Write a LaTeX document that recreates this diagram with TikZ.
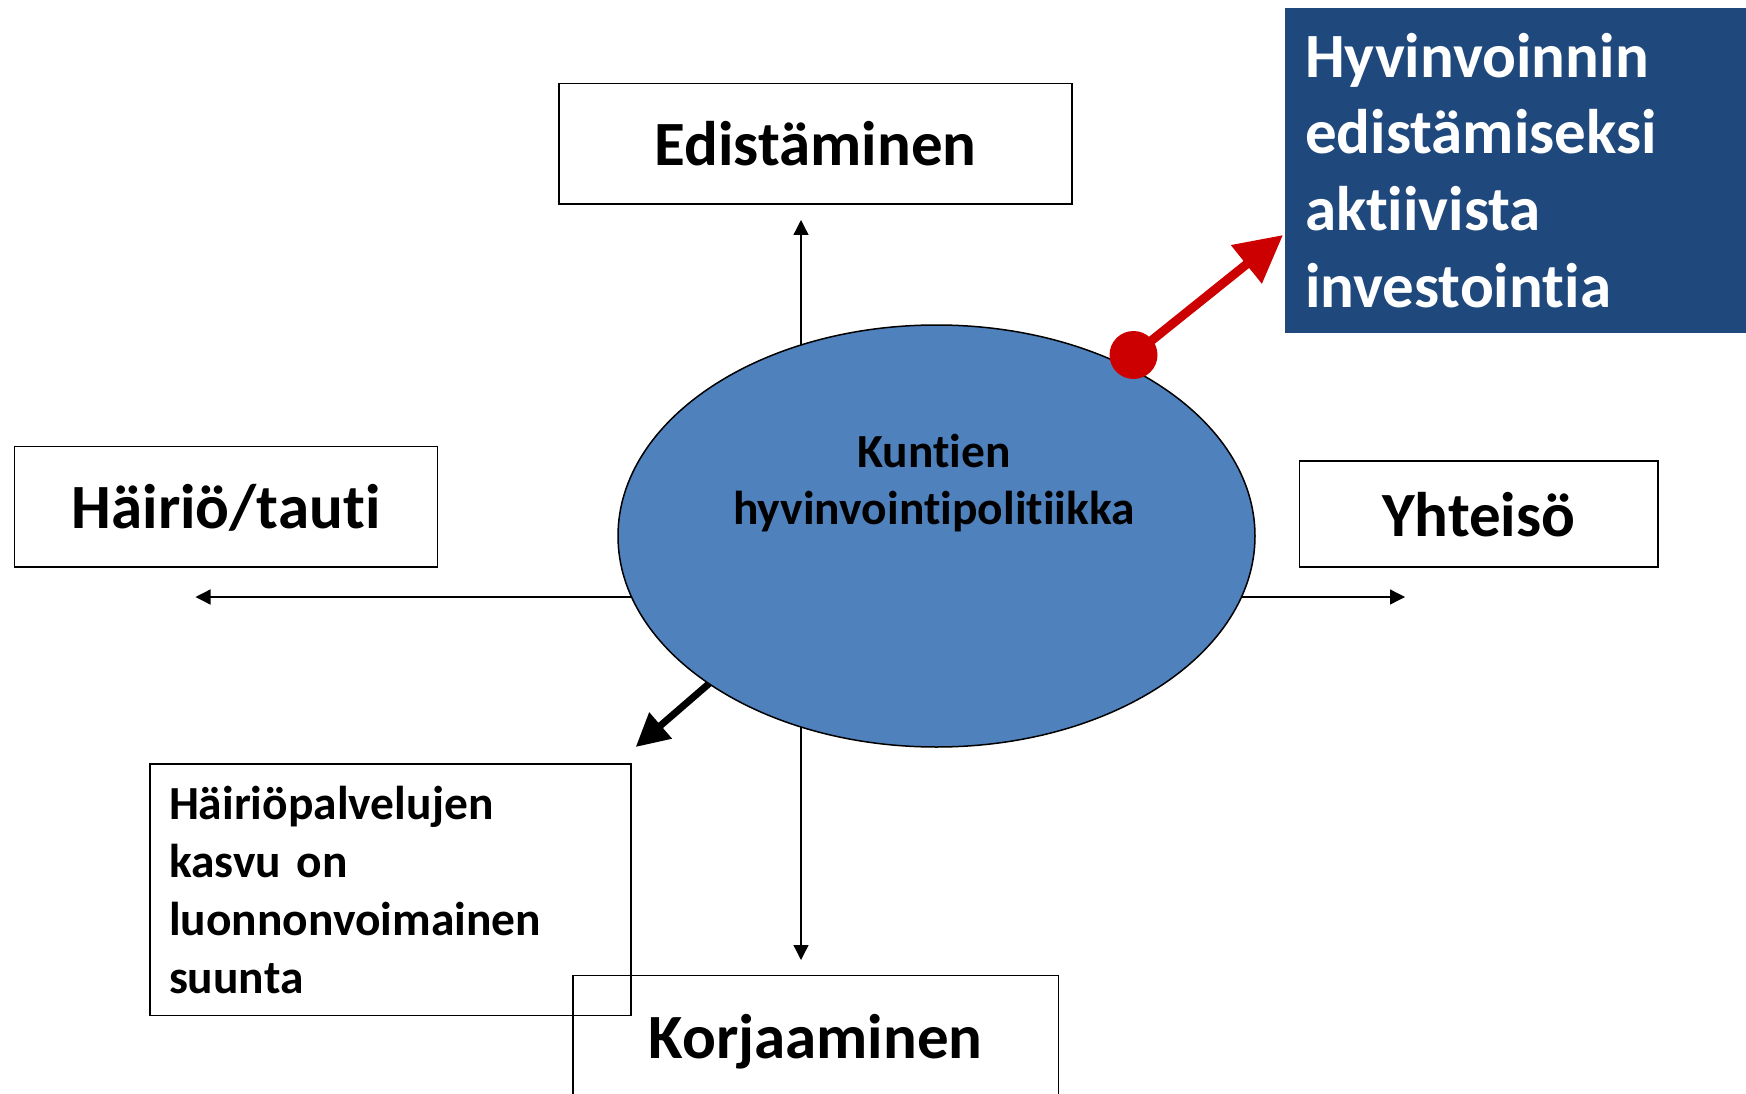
\documentclass[tikz,border=0pt]{standalone}
\usepackage{fontspec}
\setmainfont{Carlito}[Ligatures={NoCommon,NoRare,NoDiscretionary}]
\usetikzlibrary{arrows.meta,shapes.geometric,calc}
\pgfdeclarelayer{bg}
\pgfsetlayers{bg,main}
\definecolor{ellblue}{RGB}{79,129,189}
\definecolor{boxblue}{RGB}{31,73,125}
\definecolor{arrred}{RGB}{204,0,0}
\begin{document}
\begin{tikzpicture}[x=1pt,y=-1pt,
  bigbox/.style={draw=black, line width=1.5pt, inner sep=0pt, text height=44pt, text depth=0pt, font=\fontsize{63}{76.8}\selectfont\bfseries},
  thinarrow/.style={draw=black, line width=1.3pt, -{Triangle[length=15pt,width=15pt]}},
  thickarrow/.style={draw=black, line width=7pt, -{Triangle[length=33pt,width=33pt]}},
  redarrow/.style={draw=arrred, line width=9pt, -{Triangle[length=47pt,width=47pt]}},
  smalltext/.style={font=\fontsize{47.5}{58}\selectfont\bfseries}
  ]
\path[use as bounding box, clip] (0,0) rectangle (1746,1094);
\node[bigbox, minimum width=513pt, minimum height=120.5pt] (edist) at (815.5,143.75) {Edistäminen};
\node[bigbox, minimum width=423pt, minimum height=120.3pt] (hairio) at (226,506.6) {Häiriö/tauti};
\node[bigbox, minimum width=358.5pt, minimum height=106pt] (yhteiso) at (1478.75,514) {Yhteisö};
\node[bigbox, minimum width=485.5pt, minimum height=121pt] (korj) at (815.75,1036) {Korjaaminen};
\node[draw=black, line width=1.5pt, inner xsep=19pt, inner ysep=0pt, text width=443pt, minimum height=251.5pt, align=left, smalltext] (palv) at (390.5,889.75) {Häiriöpalvelujen\\kasvu on\\luonnonvoimainen\\suunta};
\node[fill=boxblue, inner xsep=20pt, inner ysep=0pt, text width=425pt, minimum height=325pt, align=left, text=white, font=\fontsize{63}{76.8}\selectfont\bfseries] (invest) at (1517.5,170.5) {Hyvinvoinnin\\edistämiseksi\\aktiivista\\investointia};
\node[ellipse, draw=black, line width=1.5pt, fill=ellblue, minimum width=637pt, minimum height=422pt, inner sep=0pt] (ell) at (936.5,536) {};
\node[align=center, inner sep=0pt, font=\fontsize{47.5}{57.5}\selectfont\bfseries] (kunt) at (934,483) {Kuntien\\hyvinvointipolitiikka};
\coordinate (uptip) at (801,220);
\coordinate (downtip) at (801,960);
\coordinate (lefttip) at (195.5,597);
\coordinate (righttip) at (1405,597);
\coordinate (blacktip) at (635.7,747);
\coordinate (redtip) at (1283,235);
\node[circle, fill=arrred, minimum size=48pt, inner sep=0pt] (dot) at (1133.5,355) {};
\begin{pgfonlayer}{bg}
\draw[thinarrow] (ell.center -| uptip) -- (uptip);
\draw[thinarrow] (ell.center -| downtip) -- (downtip);
\draw[thinarrow] (ell.center |- lefttip) -- (lefttip);
\draw[thinarrow] (ell.center |- righttip) -- (righttip);
\draw[thickarrow, shorten <=-10pt] (ell.213) -- (blacktip);
\end{pgfonlayer}
\draw[redarrow] (dot.center) -- (redtip);
\end{tikzpicture}
\end{document}
